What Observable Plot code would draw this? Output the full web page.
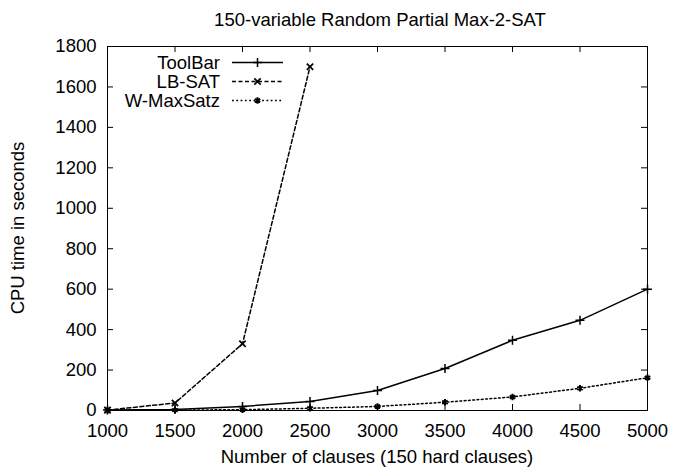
<!DOCTYPE html>
<html><head><meta charset="utf-8">
<script src="https://cdn.jsdelivr.net/npm/d3@7"></script>
<script src="https://cdn.jsdelivr.net/npm/@observablehq/plot@0.6"></script>
<style>body{margin:0;background:#fff;} svg{font-family:"Liberation Sans",Arial,sans-serif;}</style>
</head><body><div id="chart"></div>
<script>
const clauses = [1000, 1500, 2000, 2500, 3000, 3500, 4000, 4500, 5000];
const toolbar = [2, 5, 20, 45, 99, 208, 347, 446, 600];
const lbsatClauses = [1000, 1500, 2000, 2500];
const lbsat = [2, 37, 330, 1700];
const wmaxsatz = [1, 2, 4, 11, 20, 41, 67, 110, 162];
const xTicks = [1000, 1500, 2000, 2500, 3000, 3500, 4000, 4500, 5000];
const yTicks = [0, 200, 400, 600, 800, 1000, 1200, 1400, 1600, 1800];
const titleText = "150-variable Random Partial Max-2-SAT";
const xLabel = "Number of clauses (150 hard clauses)";
const yLabel = "CPU time in seconds";

const series = [
  {name: "ToolBar", xs: clauses, ys: toolbar, dash: null, symbol: "plus", sw: 1.5},
  {name: "LB-SAT", xs: lbsatClauses, ys: lbsat, dash: "4,2.5", symbol: "times", sw: 1.7},
  {name: "W-MaxSatz", xs: clauses, ys: wmaxsatz, dash: "1.8,2.5", symbol: "asterisk", sw: 2}
];
const rows = series.map(s => s.xs.map((x, i) => ({series: s.name, x, y: s.ys[i]})));

const W = 673, H = 467, mL = 107, mR = 26, mT = 46, mB = 57;
const pw = W - mL - mR, ph = H - mT - mB, tick = 6;
const fs = 18.5;
const markR = 3;

const marks = [];
marks.push(Plot.frame({stroke: "black", strokeWidth: 1}));
marks.push(Plot.ruleX(xTicks, {x: d => d, insetTop: ph - tick, stroke: "black"}));
marks.push(Plot.ruleX(xTicks, {x: d => d, insetBottom: ph - tick, stroke: "black"}));
marks.push(Plot.ruleY(yTicks, {y: d => d, insetRight: pw - tick, stroke: "black"}));
marks.push(Plot.ruleY(yTicks, {y: d => d, insetLeft: pw - tick, stroke: "black"}));
marks.push(Plot.axisX(xTicks, {tickSize: 0, tickPadding: 13, fontSize: fs, label: null, tickFormat: d => String(d)}));
marks.push(Plot.axisY(yTicks, {tickSize: 0, tickPadding: 11, fontSize: fs, label: null, tickFormat: d => String(d)}));
series.forEach((s, k) => {
  marks.push(Plot.line(rows[k], {x: "x", y: "y", stroke: "black", strokeWidth: 1.5, strokeDasharray: s.dash}));
  marks.push(Plot.dot(rows[k], {x: "x", y: "y", symbol: s.symbol, r: markR, stroke: "black", fill: "black", strokeWidth: s.sw}));
});

const chart = Plot.plot({
  width: W, height: H,
  marginLeft: mL, marginRight: mR, marginTop: mT, marginBottom: mB,
  style: {fontFamily: "Liberation Sans, Arial, sans-serif", fontSize: fs + "px", color: "black", background: "white"},
  x: {domain: [1000, 5000], nice: false},
  y: {domain: [0, 1800], nice: false},
  marks
});
document.getElementById("chart").appendChild(chart);

const svg = d3.select(chart);
svg.append("text").attr("x", mL + pw / 2 + 3).attr("y", 20).attr("dy", "0.35em").attr("text-anchor", "middle")
  .attr("font-size", fs).attr("fill", "black").text(titleText);
svg.append("text").attr("x", mL + pw / 2).attr("y", 457).attr("dy", "0.35em").attr("text-anchor", "middle")
  .attr("font-size", fs).attr("fill", "black").text(xLabel);
svg.append("text").attr("transform", `translate(18,${mT + ph / 2}) rotate(-90)`).attr("dy", "0.35em").attr("text-anchor", "middle")
  .attr("font-size", fs).attr("fill", "black").text(yLabel);

const sym = {plus: d3.symbolPlus, times: d3.symbolTimes, asterisk: d3.symbolAsterisk};
series.forEach((s, k) => {
  const y = 62.5 + k * 19;
  const g = svg.append("g");
  g.append("text").attr("x", 220).attr("y", y).attr("dy", "0.35em").attr("text-anchor", "end")
    .attr("font-size", fs).attr("fill", "black").text(s.name);
  g.append("line").attr("x1", 232).attr("x2", 283).attr("y1", y).attr("y2", y)
    .attr("stroke", "black").attr("stroke-width", 1.5).attr("stroke-dasharray", s.dash);
  g.append("path").attr("transform", `translate(257.5,${y})`)
    .attr("d", d3.symbol(sym[s.symbol], Math.PI * markR * markR)()).attr("stroke", "black").attr("fill", "black").attr("stroke-width", s.sw);
});
</script></body></html>
